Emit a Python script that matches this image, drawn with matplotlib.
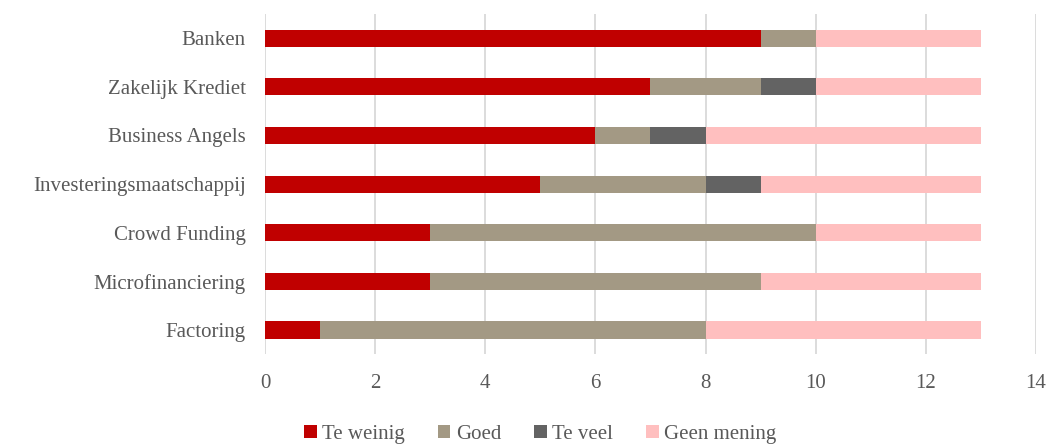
from matplotlib import pyplot as plt
import numpy as np

categories = ["Banken", "Zakelijk Krediet", "Business Angels", "Investeringsmaatschappij",
              "Crowd Funding", "Microfinanciering", "Factoring"]
series = ["Te weinig", "Goed", "Te veel", "Geen mening"]
te_weinig = [9, 7, 6, 5, 3, 3, 1]
goed = [1, 2, 1, 3, 7, 6, 7]
te_veel = [0, 1, 1, 1, 0, 0, 0]
geen_mening = [3, 3, 5, 4, 3, 4, 5]
colors = ["#C00000", "#A39984", "#636363", "#FFBFBF"]

plt.rcParams["font.family"] = ["Liberation Serif", "DejaVu Serif"]
txt = "#595959"

fig = plt.figure(figsize=(10.49, 4.44), dpi=100)
ax = fig.add_axes([0.2526, 0.202, 0.735, 0.767])

y = np.arange(len(categories))[::-1]
left = np.zeros(len(categories))
for name, vals, c in zip(series, [te_weinig, goed, te_veel, geen_mening], colors):
    ax.barh(y, vals, left=left, height=0.35, color=c, label=name, zorder=3)
    left += np.array(vals)

ax.set_yticks(y)
ax.set_yticklabels(categories, fontsize=15, color=txt)
ax.set_ylim(-0.5, len(categories) - 0.5)
ax.set_xlim(0, 14)
ax.set_xticks(np.arange(0, 15, 2))
ax.tick_params(axis="x", labelsize=15, labelcolor=txt, length=0, pad=14)
ax.tick_params(axis="y", length=0, pad=14)
ax.grid(axis="x", color="#D9D9D9", linewidth=1.3, zorder=0)
for s in ax.spines.values():
    s.set_visible(False)

fig.legend(loc="center", bbox_to_anchor=(0.515, 0.022), ncol=4, frameon=False,
           fontsize=15, labelcolor=txt, handlelength=0.6, handleheight=0.6,
           handletextpad=0.25, columnspacing=1.6)

fig.savefig("out.png", dpi=100)
